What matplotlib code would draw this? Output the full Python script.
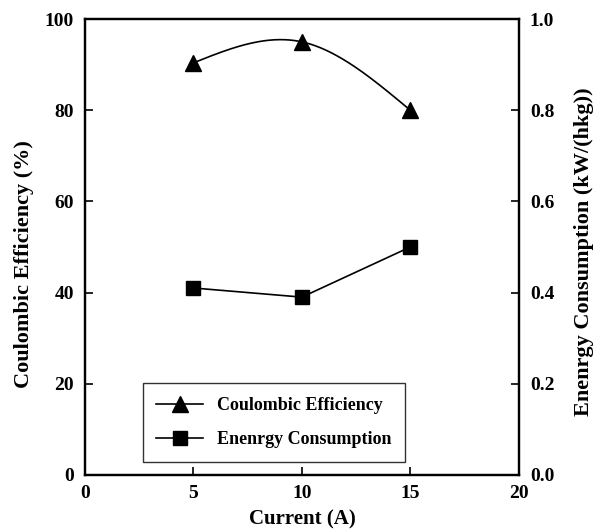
import numpy as np
import matplotlib
matplotlib.use('Agg')
import matplotlib.pyplot as plt
from matplotlib.lines import Line2D

current = [5, 10, 15]
coulombic_eff = [90.4, 95.0, 80.0]
energy = [0.41, 0.39, 0.50]


def natural_spline(x, y, num=200):
    x = np.asarray(x, float)
    y = np.asarray(y, float)
    n = len(x)
    h = np.diff(x)
    A = np.zeros((n, n))
    b = np.zeros(n)
    A[0, 0] = A[-1, -1] = 1
    for i in range(1, n - 1):
        A[i, i - 1] = h[i - 1]
        A[i, i] = 2 * (h[i - 1] + h[i])
        A[i, i + 1] = h[i]
        b[i] = 6 * ((y[i + 1] - y[i]) / h[i] - (y[i] - y[i - 1]) / h[i - 1])
    M = np.linalg.solve(A, b)
    xs = np.linspace(x[0], x[-1], num)
    ys = np.empty_like(xs)
    for k, xv in enumerate(xs):
        i = min(np.searchsorted(x, xv, side='right') - 1, n - 2)
        t1 = x[i + 1] - xv
        t0 = xv - x[i]
        ys[k] = (M[i] * t1 ** 3 + M[i + 1] * t0 ** 3) / (6 * h[i]) \
            + (y[i] / h[i] - M[i] * h[i] / 6) * t1 \
            + (y[i + 1] / h[i] - M[i + 1] * h[i] / 6) * t0
    return xs, ys


plt.rcParams['font.family'] = 'Liberation Serif'
plt.rcParams['font.weight'] = 'bold'

fig = plt.figure(figsize=(5.99, 5.30), dpi=100)
ax = fig.add_axes([0.142, 0.104, 0.724, 0.860])
ax2 = ax.twinx()

xs, ys = natural_spline(current, coulombic_eff)
ax.plot(xs, ys, color='black', lw=1.2)
ax.plot(current, coulombic_eff, ls='none', marker='^', ms=11, color='black')
ax2.plot(current, energy, color='black', lw=1.2, marker='s', ms=10)

ax.set_xlim(0, 20)
ax.set_ylim(0, 100)
ax2.set_ylim(0, 1.0)
ax.set_xticks([0, 5, 10, 15, 20])
ax.set_yticks([0, 20, 40, 60, 80, 100])
ax2.set_yticks([0, 0.2, 0.4, 0.6, 0.8, 1.0])
ax2.set_yticklabels(['0.0', '0.2', '0.4', '0.6', '0.8', '1.0'])

for a in (ax, ax2):
    for s in a.spines.values():
        s.set_linewidth(1.6)
    a.tick_params(direction='in', length=6, width=1.2, labelsize=14, pad=8)
ax.tick_params(axis='x', pad=7)

ax.set_xlabel('Current (A)', fontsize=15, fontweight='bold')
ax.set_ylabel('Coulombic Efficiency (%)', fontsize=16, fontweight='bold')
ax2.set_ylabel('Enenrgy Consumption (kW/(hkg))', fontsize=16, fontweight='bold')
ax.xaxis.set_label_coords(0.5, -0.075)
ax.yaxis.set_label_coords(-0.118, 0.463)
ax2.yaxis.set_label_coords(1.127, 0.489)

handles = [
    Line2D([], [], color='black', lw=1.2, marker='^', ms=11),
    Line2D([], [], color='black', lw=1.2, marker='s', ms=10),
]
leg = ax.legend(handles, ['Coulombic Efficiency', 'Enenrgy Consumption'],
                loc='lower left', bbox_to_anchor=(0.133, 0.029), borderaxespad=0,
                fontsize=13, frameon=True, fancybox=False, edgecolor='black',
                handlelength=2.6, handletextpad=0.75, borderpad=0.75,
                labelspacing=0.95)
leg.get_frame().set_linewidth(1.0)

fig.savefig('out.png', dpi=100)
